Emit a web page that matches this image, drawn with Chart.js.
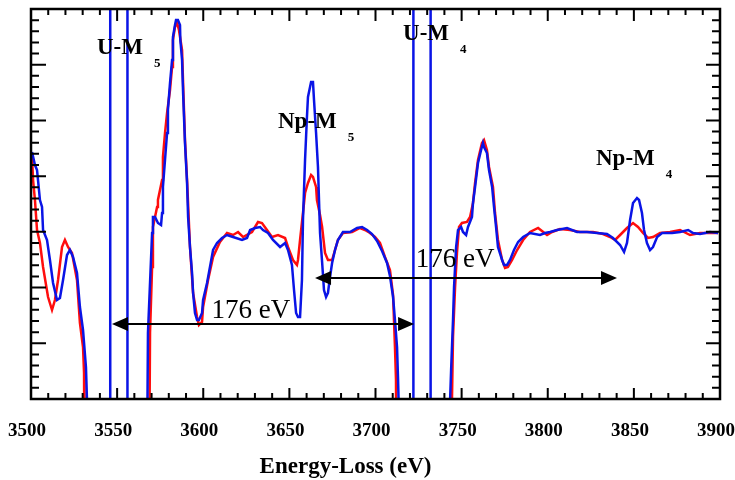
<!DOCTYPE html>
<html>
<head>
<meta charset="utf-8">
<script src="https://cdn.jsdelivr.net/npm/chart.js@4.4.1/dist/chart.umd.min.js"></script>
<style>
  html, body { margin: 0; padding: 0; background: #fff; }
</style>
</head>
<body>
<canvas id="eels" width="735" height="480"></canvas>
<script>
// energy axis (eV)
var xTickLabels = [3500, 3550, 3600, 3650, 3700, 3750, 3800, 3850, 3900]

// red spectrum
var redE = [3500.6,3501.2,3502.3,3503.5,3505.2,3507.0,3509.9,3512.2,3513.9,3515.7,3518.0,3519.7,3521.5,3523.8,3526.7,3528.4,3530.2,3530.8,3530.9,3531.2,
    3568.6,3569.1,3570.3,3570.8,3573.2,3573.7,3576.1,3576.6,3577.8,3579.0,3580.7,3581.9,3582.4,3583.6,3584.8,3585.9,3587.7,3588.3,3589.4,3590.6,
    3592.3,3594.1,3596.4,3597.5,3599.3,3599.9,3602.8,3605.7,3609.7,3613.8,3617.3,3620.2,3623.1,3628.3,3631.8,3634.1,3637.0,3639.9,3643.4,3647.5,
    3649.2,3652.1,3654.4,3655.0,3656.2,3657.9,3659.1,3660.8,3662.6,3663.7,3665.5,3666.0,3667.8,3669.0,3670.7,3672.4,3674.8,3676.5,3678.2,3681.1,
    3686.4,3691.0,3693.9,3696.8,3699.7,3702.6,3705.5,3708.4,3710.2,3711.3,3711.9,3712.0,3712.3,
    3744.0,3744.4,3745.0,3746.2,3747.3,3748.5,3750.2,3753.1,3754.9,3756.6,3757.8,3759.5,3761.8,3763.0,3764.7,3765.9,3768.2,3769.4,3771.1,3773.5,
    3775.2,3776.9,3779.3,3782.2,3785.7,3789.7,3794.4,3799.6,3802.5,3807.1,3812.9,3818.7,3826.3,3832.1,3836.2,3839.1,3842.0,3846.0,3849.5,3852.4,
    3855.3,3858.2,3861.1,3865.2,3871.0,3876.8,3882.6,3888.4,3894.2,3898.9]
var redI = [242,219,199,169,156,132,102,89,99,119,152,159,152,146,119,76,52,26,-11,-80,
    -80,66,132,172,192,199,219,242,266,286,309,332,359,372,376,369,349,316,259,219,
    152,106,82,74,77,92,119,142,157,166,164,167,162,167,177,176,169,162,164,161,
    152,139,134,139,159,186,206,216,224,222,212,199,184,172,146,139,139,149,159,166,
    167,171,169,166,162,156,142,129,104,52,19,-21,-80,
    -80,-1,62,112,146,172,176,177,182,196,216,239,256,259,249,232,212,186,159,139,
    131,132,139,149,159,167,171,164,167,170,169,167,167,165,162,159,164,171,176,172,
    166,161,162,166,167,169,164,166,166,166]

// blue spectrum
var blueE = [3500.6,3502.3,3503.5,3505.2,3506.4,3507.0,3509.3,3511.0,3512.8,3515.1,3516.8,3518.6,3520.9,3522.6,3524.4,3526.7,3528.4,3530.2,3531.9,3532.5,3532.9,
    3567.3,3567.9,3570.3,3570.8,3572.0,3573.7,3575.5,3576.1,3576.6,3577.8,3579.0,3579.5,3580.7,3581.9,3582.4,3583.6,3584.2,3585.3,3586.5,3586.7,
    3587.7,3588.3,3589.4,3590.6,3591.2,3592.3,3593.5,3594.1,3595.2,3596.4,3597.5,3599.3,3599.9,3602.2,3603.9,3605.7,3608.0,3610.9,3613.8,3617.3,
    3622.5,3625.4,3627.2,3630.1,3633.0,3634.7,3637.6,3640.5,3644.6,3647.5,3649.2,3651.5,3652.7,3653.9,3655.0,3656.2,3657.3,3657.9,3659.1,3660.2,
    3660.8,3662.6,3663.7,3664.3,3665.5,3666.6,3667.2,3667.8,3669.0,3670.1,3671.3,3672.4,3673.6,3674.8,3676.5,3678.2,3681.1,3685.2,3689.3,3692.2,
    3695.1,3698.0,3700.9,3703.8,3706.7,3708.4,3710.2,3711.3,3712.5,3713.1,3713.7,3714.0,
    3742.8,3743.3,3743.9,3745.0,3745.6,3746.8,3747.9,3749.7,3750.8,3752.6,3753.7,3756.0,3756.6,3757.8,3759.5,3761.3,3762.4,3763.0,3764.7,3765.9,
    3767.7,3768.8,3770.0,3771.1,3773.5,3774.6,3776.4,3778.1,3780.4,3782.8,3785.7,3789.7,3795.5,3798.4,3801.3,3805.4,3811.2,3817.0,3822.8,3828.6,
    3834.4,3837.9,3842.0,3844.3,3846.0,3847.8,3849.5,3851.8,3853.0,3854.7,3855.9,3857.6,3859.4,3861.1,3863.5,3866.4,3872.2,3876.8,3881.5,3884.4,
    3888.4,3894.2,3898.9]
var blueI = [247,234,229,199,192,169,159,139,116,99,101,119,144,149,142,126,92,69,32,-1,-80,
    -80,66,166,182,182,176,174,186,212,239,266,289,316,339,362,374,379,379,374,359,
    339,306,256,216,182,152,126,106,86,79,79,86,99,116,132,149,156,161,164,162,
    159,161,169,171,172,169,166,159,152,156,149,134,109,86,82,82,119,179,239,282,
    302,317,317,299,266,232,199,166,137,109,102,106,122,136,149,159,167,167,171,172,
    169,165,158,148,136,123,102,79,52,19,-21,-80,
    -80,-1,29,79,112,152,169,172,167,164,172,182,196,212,236,249,256,252,246,229,
    212,192,172,152,139,134,134,139,149,157,162,166,164,166,167,169,171,167,167,166,
    165,161,154,147,156,179,196,201,199,186,169,156,149,152,162,166,166,167,169,166,
    165,167,166]

// U-M5 and U-M4 edge markers (eV)
var edgeLines = [3546, 3556, 3722, 3732]

// edge names
var edgeNames = ["U-M", "U-M", "Np-M", "Np-M"]
var edgeSubs = ["5", "4", "5", "4"]
var edgeNameE = [3538.3, 3716.0, 3643.4, 3828.0]
var edgeNameI = [345, 359, 271, 234]

// 176 eV spacing arrows
var arrowFrom = [3547.0, 3664.9]
var arrowTo = [3722.4, 3840.2]
var arrowLevel = [75, 121]
var arrowText = ["176 eV", "176 eV"]
var arrowTextE = [3627.7, 3746.2]
var arrowTextI = [81, 132]

function pts(xs, ys) {
    return xs.map(function (v, i) { return { x: v, y: ys[i] } })
}

var datasets = [
    {
        label: "blue",
        data: pts(blueE, blueI),
        borderColor: "#0a14e6",
        borderWidth: 2.5,
        order: 0
    },
    {
        label: "red",
        data: pts(redE, redI),
        borderColor: "#ff0d0d",
        borderWidth: 2.5,
        order: 1
    }
]
edgeLines.forEach(function (e) {
    datasets.push({
        label: "edge " + e,
        data: [{ x: e, y: -20 }, { x: e, y: 420 }],
        borderColor: "#0a14e6",
        borderWidth: 2.5,
        order: 0
    })
})

var serif = '"Liberation Serif", "Times New Roman", serif'

// frame, inward ticks, labels and annotations
var decorations = {
    id: "decorations",
    afterDatasetsDraw: function (chart) {
        var ctx = chart.ctx
        var a = chart.chartArea
        var x = chart.scales.x
        var y = chart.scales.y
        ctx.save()
        ctx.strokeStyle = "#000"
        ctx.fillStyle = "#000"

        // ticks
        ctx.lineWidth = 2
        ctx.beginPath()
        for (var k = 0; k <= 40; k++) {
            var px = x.getPixelForValue(3500 + k * 10)
            var major = k % 5 === 0
            ctx.moveTo(px, a.bottom)
            ctx.lineTo(px, a.bottom - (major ? 11 : 6))
            ctx.moveTo(px, a.top)
            ctx.lineTo(px, a.top + (major ? 12 : 6))
        }
        for (var j = 0; j <= 35; j++) {
            var py = y.getPixelForValue(j * 390 / 35)
            var maj = j % 5 === 0
            ctx.moveTo(a.left, py)
            ctx.lineTo(a.left + (maj ? 15 : 8), py)
            ctx.moveTo(a.right, py)
            ctx.lineTo(a.right - (maj ? 14 : 8), py)
        }
        ctx.stroke()

        // frame
        ctx.lineWidth = 2.5
        ctx.strokeRect(a.left, a.top, a.right - a.left, a.bottom - a.top)

        // tick labels
        ctx.font = "bold 19px " + serif
        ctx.textAlign = "center"
        ctx.textBaseline = "alphabetic"
        xTickLabels.forEach(function (v) {
            ctx.fillText(String(v), x.getPixelForValue(v) - 4, a.bottom + 37)
        })

        // axis title
        ctx.font = "bold 23px " + serif
        ctx.fillText("Energy-Loss (eV)", (a.left + a.right) / 2 - 30, 473)

        // edge names with subscripts
        ctx.textAlign = "left"
        edgeNames.forEach(function (n, i) {
            var lx = x.getPixelForValue(edgeNameE[i])
            var ly = y.getPixelForValue(edgeNameI[i])
            ctx.font = "bold 23px " + serif
            ctx.fillText(n, lx, ly)
            var w = ctx.measureText(n).width
            ctx.font = "bold 13px " + serif
            ctx.fillText(edgeSubs[i], lx + w + 11, ly + 13)
        })

        // arrows
        ctx.lineWidth = 2
        arrowFrom.forEach(function (e, i) {
            var x1 = x.getPixelForValue(e)
            var x2 = x.getPixelForValue(arrowTo[i])
            var ay = y.getPixelForValue(arrowLevel[i])
            ctx.beginPath()
            ctx.moveTo(x1 + 8, ay)
            ctx.lineTo(x2 - 8, ay)
            ctx.stroke()
            ctx.beginPath()
            ctx.moveTo(x1, ay)
            ctx.lineTo(x1 + 16, ay - 7)
            ctx.lineTo(x1 + 16, ay + 7)
            ctx.closePath()
            ctx.moveTo(x2, ay)
            ctx.lineTo(x2 - 16, ay - 7)
            ctx.lineTo(x2 - 16, ay + 7)
            ctx.closePath()
            ctx.fill()

            ctx.font = "27px " + serif
            ctx.textAlign = "center"
            ctx.fillText(arrowText[i], x.getPixelForValue(arrowTextE[i]), y.getPixelForValue(arrowTextI[i]))
            ctx.textAlign = "left"
        })
        ctx.restore()
    }
}

var chart = new Chart(document.getElementById("eels"), {
    type: "scatter",
    data: { datasets: datasets },
    options: {
        responsive: false,
        animation: false,
        showLine: true,
        layout: {
            autoPadding: false,
            padding: { left: 31, top: 9, right: 15, bottom: 81 }
        },
        elements: {
            point: { radius: 0 },
            line: { tension: 0, fill: false }
        },
        datasets: {
            scatter: { clip: 0 }
        },
        scales: {
            x: { type: "linear", min: 3500, max: 3900, display: false },
            y: { type: "linear", min: 0, max: 390, display: false }
        },
        plugins: {
            legend: { display: false },
            tooltip: { enabled: false }
        }
    },
    plugins: [decorations]
})
</script>
</body>
</html>
